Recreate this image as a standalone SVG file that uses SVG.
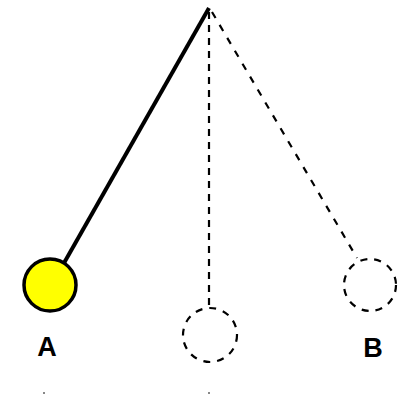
<svg xmlns="http://www.w3.org/2000/svg" width="404" height="401" viewBox="0 0 404 401">
<style>
.dash{fill:none;stroke:#000;stroke-width:2.2;stroke-dasharray:7 7}
.lbl{font-family:"Liberation Sans",Arial,sans-serif;font-weight:bold;font-size:27px;fill:#000;text-anchor:middle}
</style>
<rect width="404" height="401" fill="#fff"/>
<g id="connectors">
<line x1="209" y1="8" x2="64" y2="263" stroke="#000" stroke-width="4"/>
<line class="dash" x1="209" y1="12" x2="209" y2="307" style="stroke-dasharray:7 6"/>
<line class="dash" x1="212" y1="12" x2="357" y2="258" style="stroke-dasharray:7 8"/>
</g>
<g id="ballA">
<circle cx="50" cy="285" r="26" fill="#ffff00" stroke="#000" stroke-width="3.5"/>
<text class="lbl" x="47" y="356">A</text>
</g>
<g id="ballMid">
<circle class="dash" cx="210" cy="335" r="27"/>
</g>
<g id="ballB">
<circle class="dash" cx="370" cy="285" r="26"/>
<text class="lbl" x="373" y="357">B</text>
</g>
<g id="ticks" fill="#888">
<rect x="43" y="392" width="2" height="2"/>
<rect x="208" y="392" width="2" height="2"/>
</g>
</svg>
